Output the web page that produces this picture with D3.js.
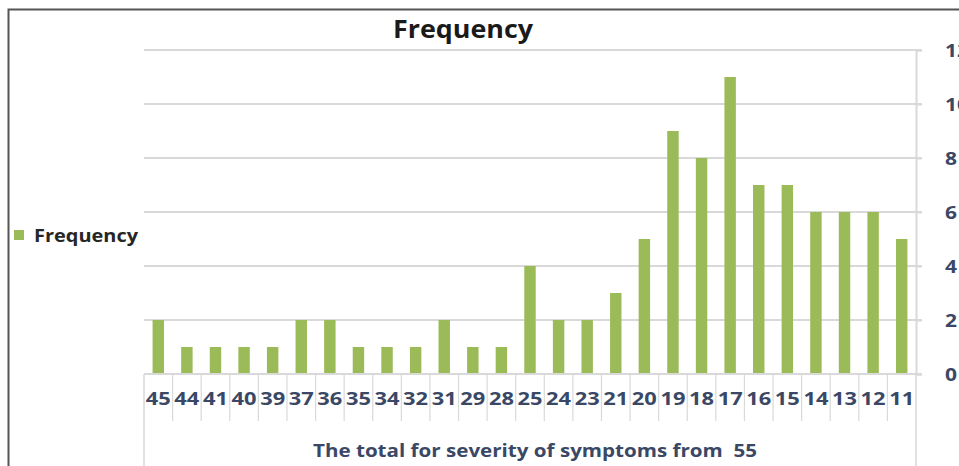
<!DOCTYPE html>
<html>
<head>
<meta charset="utf-8">
<script src="https://cdn.jsdelivr.net/npm/d3@7/dist/d3.min.js"></script>
<style>
  html, body { margin: 0; padding: 0; background: #fff; }
  svg { display: block; }
</style>
</head>
<body>
<svg id="chart" width="959" height="466"></svg>
<script>
// Symptom severity totals (categories) and how many respondents scored each
const categories = ["45","44","41","40","39","37","36","35","34","32","31","29","28","25","24","23","21","20","19","18","17","16","15","14","13","12","11"];
const frequency  = [2,1,1,1,1,2,2,1,1,1,2,1,1,4,2,2,3,5,9,8,11,7,7,6,6,6,5];
const yTicks = [0, 2, 4, 6, 8, 10, 12];
const chartTitle = "Frequency";
const seriesName = "Frequency";
const axisTitle = "The total for severity of symptoms from  55";

const svg = d3.select("#chart");
const font = "'Open Sans', 'Noto Sans', sans-serif";
const labelColor = "#3a4866";
const barColor = "#9bbb59";
const gridColor = "#d9d9d9";

const plot = { left: 144, right: 916, top: 50, bottom: 374 };

const x = d3.scaleBand()
  .domain(categories)
  .range([plot.left, plot.right])
  .paddingInner(0.6)
  .paddingOuter(0.3);

const xOuter = d3.scaleBand().domain(categories).range([plot.left, plot.right]);

const y = d3.scaleLinear().domain([0, 12]).range([plot.bottom, plot.top]);

// wide bold text: stretch glyphs to a given width
function wideText(sel, width) {
  sel.attr("textLength", width).attr("lengthAdjust", "spacingAndGlyphs");
}

// outer frame (left and top edges of the chart area)
svg.append("path")
  .attr("d", `M8.5,466 V9.5 H959`)
  .attr("fill", "none")
  .attr("stroke", "#555")
  .attr("stroke-width", 2);

// horizontal gridlines
svg.append("g")
  .selectAll("line")
  .data(yTicks.filter(d => d > 0))
  .join("line")
  .attr("x1", plot.left)
  .attr("x2", plot.right + 6)
  .attr("y1", d => y(d))
  .attr("y2", d => y(d))
  .attr("stroke", gridColor)
  .attr("stroke-width", 2);

// right value axis
const yAxis = d3.axisRight(y).tickValues(yTicks).tickSize(6).tickPadding(23);
const gy = svg.append("g")
  .attr("transform", `translate(${plot.right},0)`)
  .call(yAxis);
gy.select(".domain").attr("stroke", gridColor).attr("stroke-width", 2);
gy.selectAll(".tick line").attr("stroke", gridColor).attr("stroke-width", 2);
gy.selectAll(".tick text")
  .attr("fill", labelColor)
  .attr("dy", "0.36em")
  .style("font-family", font)
  .style("font-size", "18px")
  .style("font-weight", "bold")
  .each(function(d) { wideText(d3.select(this), String(d).length * 12); });

// bars
svg.append("g")
  .selectAll("rect")
  .data(frequency)
  .join("rect")
  .attr("x", (d, i) => x(categories[i]))
  .attr("y", d => y(d))
  .attr("width", x.bandwidth())
  .attr("height", d => y(0) - y(d))
  .attr("fill", barColor);

// category axis baseline
svg.append("line")
  .attr("x1", plot.left)
  .attr("x2", plot.right + 6)
  .attr("y1", plot.bottom)
  .attr("y2", plot.bottom)
  .attr("stroke", gridColor)
  .attr("stroke-width", 2);

// category dividers
const dividers = d3.range(1, categories.length).map(i => xOuter(categories[i]));
svg.append("g")
  .selectAll("line")
  .data(dividers)
  .join("line")
  .attr("x1", d => d)
  .attr("x2", d => d)
  .attr("y1", plot.bottom)
  .attr("y2", 421)
  .attr("stroke", gridColor)
  .attr("stroke-width", 1.2);

// outer dividers spanning the group label
svg.append("g")
  .selectAll("line")
  .data([plot.left, plot.right])
  .join("line")
  .attr("x1", d => d)
  .attr("x2", d => d)
  .attr("y1", plot.bottom)
  .attr("y2", 466)
  .attr("stroke", gridColor)
  .attr("stroke-width", 1.5);

// category labels
svg.append("g")
  .selectAll("text")
  .data(categories)
  .join("text")
  .attr("x", d => xOuter(d) + xOuter.bandwidth() / 2 - 12.5)
  .attr("y", 405)
  .attr("fill", labelColor)
  .style("font-family", font)
  .style("font-size", "17.5px")
  .style("font-weight", "bold")
  .text(d => d)
  .call(wideText, 25);

// group label under the categories
svg.append("text")
  .attr("x", 313)
  .attr("y", 457)
  .attr("fill", labelColor)
  .style("font-family", font)
  .style("font-size", "17px")
  .style("font-weight", "bold")
  .style("white-space", "pre")
  .text(axisTitle)
  .call(wideText, 444);

// chart title
svg.append("text")
  .attr("x", 393)
  .attr("y", 38)
  .attr("fill", "#1a1a1a")
  .style("font-family", font)
  .style("font-size", "25px")
  .style("font-weight", "bold")
  .text(chartTitle)
  .call(wideText, 140);

// legend
const legend = svg.append("g").attr("transform", "translate(14,230)");
legend.append("rect")
  .attr("width", 10).attr("height", 10)
  .attr("fill", barColor);
legend.append("text")
  .attr("x", 20)
  .attr("y", 12)
  .attr("fill", "#262626")
  .style("font-family", font)
  .style("font-size", "17px")
  .style("font-weight", "bold")
  .text(seriesName)
  .call(wideText, 104);
</script>
</body>
</html>
